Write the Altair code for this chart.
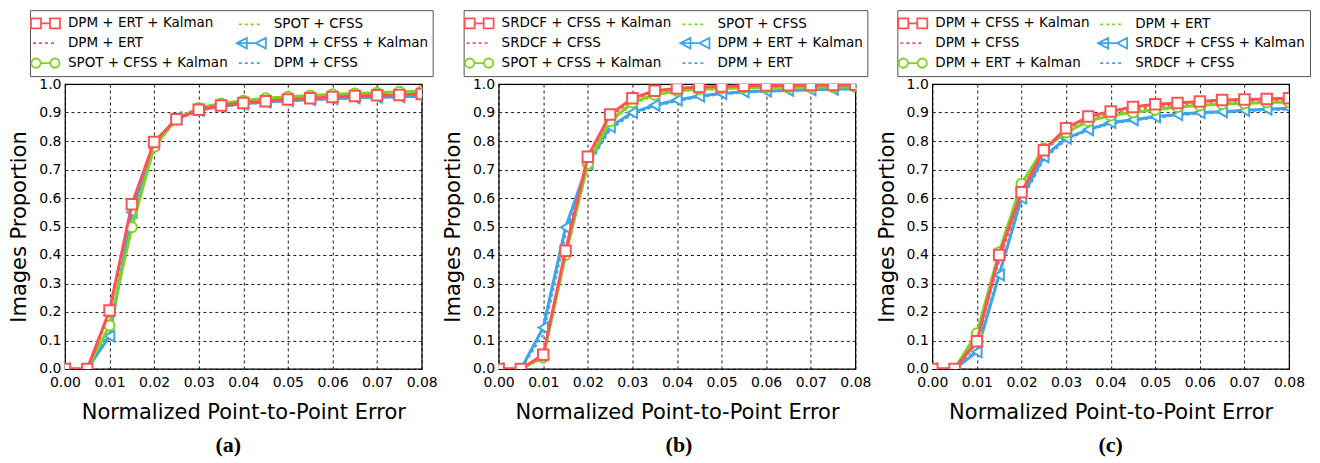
import altair as alt
import pandas as pd

# ---------------- data ----------------
x_vals = [0.0, 0.005, 0.01, 0.015, 0.02, 0.025, 0.03, 0.035, 0.04,
          0.045, 0.05, 0.055, 0.06, 0.065, 0.07, 0.075, 0.08]
x_ticks = [0.0, 0.01, 0.02, 0.03, 0.04, 0.05, 0.06, 0.07, 0.08]
y_ticks = [0.0, 0.1, 0.2, 0.3, 0.4, 0.5, 0.6, 0.7, 0.8, 0.9, 1.0]

# legend order as in the figure (column-major): red K, red dotted, green K, green dotted, blue K, blue dotted
series_colors = ["#FF5252", "#FF5252", "#7ED321", "#7ED321", "#3DA5E8", "#3DA5E8"]
series_kinds = ["square", "dotted", "circle", "dotted", "triangle-left", "dotted"]

a_names = ["DPM + ERT + Kalman", "DPM + ERT", "SPOT + CFSS + Kalman",
           "SPOT + CFSS", "DPM + CFSS + Kalman", "DPM + CFSS"]
a_red_k = [0, 0, 0.205, 0.578, 0.797, 0.877, 0.91, 0.925, 0.934, 0.94, 0.946, 0.95, 0.955, 0.958, 0.961, 0.962, 0.965]
a_red_d = [0, 0, 0.19, 0.56, 0.79, 0.874, 0.908, 0.923, 0.932, 0.939, 0.944, 0.948, 0.952, 0.955, 0.958, 0.96, 0.962]
a_green_k = [0, 0, 0.152, 0.497, 0.78, 0.878, 0.916, 0.932, 0.942, 0.95, 0.956, 0.96, 0.964, 0.967, 0.97, 0.973, 0.975]
a_green_d = [0, 0, 0.148, 0.51, 0.775, 0.875, 0.914, 0.93, 0.94, 0.948, 0.954, 0.958, 0.962, 0.965, 0.968, 0.971, 0.973]
a_blue_k = [0, 0, 0.115, 0.55, 0.79, 0.882, 0.908, 0.922, 0.931, 0.937, 0.942, 0.946, 0.949, 0.952, 0.954, 0.956, 0.957]
a_blue_d = [0, 0, 0.13, 0.54, 0.785, 0.878, 0.906, 0.92, 0.929, 0.935, 0.94, 0.944, 0.947, 0.95, 0.952, 0.954, 0.955]

b_names = ["SRDCF + CFSS + Kalman", "SRDCF + CFSS", "SPOT + CFSS + Kalman",
           "SPOT + CFSS", "DPM + ERT + Kalman", "DPM + ERT"]
b_red_k = [0, 0, 0.05, 0.415, 0.745, 0.893, 0.95, 0.977, 0.985, 0.99, 0.992, 0.994, 0.995, 0.996, 0.997, 0.997, 0.998]
b_red_d = [0, 0, 0.045, 0.40, 0.735, 0.885, 0.945, 0.972, 0.982, 0.987, 0.99, 0.992, 0.993, 0.994, 0.995, 0.996, 0.996]
b_green_k = [0, 0, 0.04, 0.40, 0.72, 0.87, 0.935, 0.963, 0.977, 0.982, 0.985, 0.987, 0.988, 0.989, 0.989, 0.99, 0.99]
b_green_d = [0, 0, 0.042, 0.39, 0.715, 0.865, 0.93, 0.96, 0.974, 0.98, 0.983, 0.985, 0.986, 0.987, 0.988, 0.988, 0.989]
b_blue_k = [0, 0, 0.145, 0.497, 0.72, 0.85, 0.90, 0.926, 0.944, 0.958, 0.967, 0.973, 0.976, 0.978, 0.98, 0.982, 0.984]
b_blue_d = [0, 0, 0.12, 0.47, 0.71, 0.84, 0.895, 0.922, 0.94, 0.955, 0.964, 0.97, 0.974, 0.977, 0.979, 0.981, 0.983]

c_names = ["DPM + CFSS + Kalman", "DPM + CFSS", "DPM + ERT + Kalman",
           "DPM + ERT", "SRDCF + CFSS + Kalman", "SRDCF + CFSS"]
c_red_k = [0, 0, 0.097, 0.40, 0.62, 0.768, 0.845, 0.886, 0.904, 0.92, 0.929, 0.934, 0.939, 0.944, 0.946, 0.948, 0.95]
c_red_d = [0, 0, 0.09, 0.38, 0.61, 0.76, 0.835, 0.875, 0.895, 0.91, 0.92, 0.926, 0.931, 0.935, 0.938, 0.94, 0.942]
c_green_k = [0, 0, 0.125, 0.41, 0.65, 0.775, 0.83, 0.87, 0.89, 0.90, 0.91, 0.92, 0.925, 0.93, 0.932, 0.935, 0.937]
c_green_d = [0, 0, 0.12, 0.405, 0.645, 0.772, 0.835, 0.872, 0.893, 0.905, 0.915, 0.922, 0.927, 0.931, 0.934, 0.936, 0.938]
c_blue_k = [0, 0, 0.06, 0.33, 0.60, 0.745, 0.81, 0.84, 0.865, 0.875, 0.885, 0.893, 0.90, 0.903, 0.908, 0.912, 0.915]
c_blue_d = [0, 0, 0.07, 0.34, 0.59, 0.735, 0.805, 0.838, 0.86, 0.872, 0.882, 0.89, 0.896, 0.90, 0.905, 0.908, 0.91]

# legend glyphs (custom symbol paths, unit = half of a 16px symbol)
legend_paths = {
    "square": "M-1.5,-0.62 L-0.25,-0.62 L-0.25,0.62 L-1.5,0.62 Z M-0.25,0 L0.875,0 "
              "M0.875,-0.62 L2.125,-0.62 L2.125,0.62 L0.875,0.62 Z",
    "circle": "M-1.45,0 A0.58,0.58 0 1,1 -0.29,0 A0.58,0.58 0 1,1 -1.45,0 M-0.29,0 L0.91,0 "
              "M0.91,0 A0.58,0.58 0 1,1 2.07,0 A0.58,0.58 0 1,1 0.91,0",
    "triangle-left": "M-1.5,0 L-0.25,-0.66 L-0.25,0.66 Z M-1.5,0 L0.875,0 "
                     "M0.875,0 L2.125,-0.66 L2.125,0.66 Z",
    "dotted": "M-1.25,0 L-0.875,0 M-0.5,0 L-0.125,0 M0.25,0 L0.625,0 M1.0,0 L1.375,0",
}
marker_sizes = {"square": 110, "circle": 100, "triangle-left": 120}


def make_panel(names, values, caption, cap_dx):
    rows = []
    for name, vals in zip(names, values):
        for xv, yv in zip(x_vals, vals):
            rows.append({"x": xv, "y": yv, "series": name})
    df = pd.DataFrame(rows)

    xenc = alt.X("x:Q", scale=alt.Scale(domain=[0, 0.08], nice=False),
                 axis=alt.Axis(values=x_ticks, format=".2f",
                               title="Normalized Point-to-Point Error",
                               labelPadding=7, titlePadding=12,
                               labelOverlap=False, labelFlush=False))
    yenc = alt.Y("y:Q", scale=alt.Scale(domain=[0, 1], nice=False),
                 axis=alt.Axis(values=y_ticks, format=".1f",
                               title="Images Proportion",
                               labelPadding=4, titlePadding=9,
                               labelOverlap=False, labelFlush=False))

    layers = []
    # dotted series first
    for i, name in enumerate(names):
        if series_kinds[i] == "dotted":
            layers.append(
                alt.Chart(df).transform_filter(alt.datum.series == name)
                .mark_line(color=series_colors[i], strokeDash=[3, 3], strokeWidth=2, clip=True)
                .encode(x=xenc, y=yenc)
            )
    # Kalman series, red drawn last (on top)
    for i in [4, 2, 0]:
        name = names[i]
        base = alt.Chart(df).transform_filter(alt.datum.series == name)
        layers.append(base.mark_line(color=series_colors[i], strokeWidth=3, clip=True)
                      .encode(x=xenc, y=yenc))
        layers.append(base.mark_point(shape=series_kinds[i], size=marker_sizes[series_kinds[i]],
                                      filled=True, fill="white", stroke=series_colors[i],
                                      strokeWidth=2, opacity=1, clip=True)
                      .encode(x=xenc, y=yenc))

    # legend (filled column by column, 2 columns)
    dom = list(names)
    cols = list(series_colors)
    paths = [legend_paths[k] for k in series_kinds]
    leg = alt.Legend(orient="none", legendX=-35, legendY=-74, columns=2, title=None,
                     strokeColor="#555555", fillColor="white", padding=4,
                     symbolSize=256, symbolStrokeWidth=1.8,
                     labelFont="DejaVu Sans", labelFontSize=13.5, labelColor="black",
                     labelOffset=16, columnPadding=4, rowPadding=2, labelLimit=400)
    layers.append(
        alt.Chart(df).transform_filter("datum.x < 0")
        .mark_point(filled=False, opacity=1)
        .encode(x=xenc, y=yenc,
                color=alt.Color("series:N", scale=alt.Scale(domain=dom, range=cols), legend=leg),
                shape=alt.Shape("series:N", scale=alt.Scale(domain=dom, range=paths), legend=leg))
    )

    return alt.layer(*layers).properties(
        width=357, height=285,
        title=alt.TitleParams(caption, orient="bottom", font="Liberation Serif",
                              fontSize=22, fontWeight="bold", color="black",
                              frame="group", anchor="middle",
                              dx=cap_dx, offset=12),
    )


pa = make_panel(a_names, [a_red_k, a_red_d, a_green_k, a_green_d, a_blue_k, a_blue_d], "(a)", -15)
pb = make_panel(b_names, [b_red_k, b_red_d, b_green_k, b_green_d, b_blue_k, b_blue_d], "(b)", 2)
pc = make_panel(c_names, [c_red_k, c_red_d, c_green_k, c_green_d, c_blue_k, c_blue_d], "(c)", 0)

chart = alt.hconcat(pa, pb, pc, spacing=77, bounds="flush").resolve_scale(
    color="independent", shape="independent"
).resolve_legend(
    color="independent", shape="independent"
).configure_view(
    stroke="black", strokeWidth=1.2
).configure_axis(
    labelFont="DejaVu Sans", labelFontSize=14, labelColor="black",
    titleFont="DejaVu Sans", titleFontSize=21, titleFontWeight="normal", titleColor="black",
    grid=True, gridColor="black", gridDash=[3, 3], gridWidth=1, gridOpacity=0.9,
    ticks=False, domain=False,
).properties(
    padding={"left": 0, "top": 0, "right": 0, "bottom": 0},
    background="white",
)

chart.save("out.html", embed_options={"renderer": "svg", "actions": False})
